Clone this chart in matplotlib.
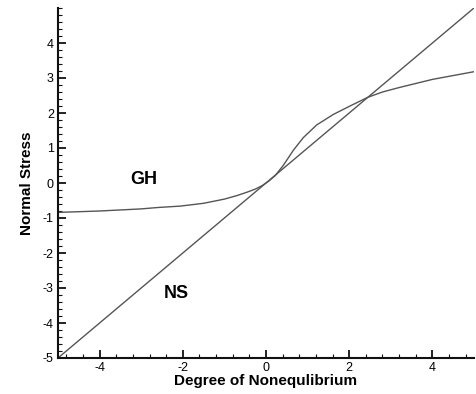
import numpy as np
import matplotlib
matplotlib.use("Agg")
import matplotlib.pyplot as plt
from matplotlib.ticker import MultipleLocator, FixedLocator

plt.rcParams['font.family'] = ['Liberation Sans', 'DejaVu Sans']
plt.rcParams['axes.unicode_minus'] = False

# NS curve (straight line)
ns_x = [-5, 5]
ns_y = [-5, 5]

# GH curve
gh_x = [-5.0, -4.0, -3.0, -2.6, -2.06, -1.5, -1.0, -0.7, -0.45, -0.25, -0.1, 0.05, 0.22, 0.42, 0.66, 0.90, 1.22, 1.62, 2.02, 2.45, 2.8, 3.21, 4.0, 5.0]
gh_y = [-0.84, -0.80, -0.74, -0.70, -0.66, -0.58, -0.46, -0.36, -0.26, -0.17, -0.08, 0.04, 0.21, 0.51, 0.94, 1.30, 1.66, 1.96, 2.20, 2.45, 2.60, 2.73, 2.96, 3.18]

xticks = [-4, -2, 0, 2, 4]
yticks = [-5, -4, -3, -2, -1, 0, 1, 2, 3, 4]

fig = plt.figure(figsize=(4.76, 3.94), dpi=100)
ax = fig.add_axes([58/476, 36/394, 416/476, 350/394])

line_color = '#555555'
ax.plot(ns_x, ns_y, color=line_color, lw=1.0)
ax.plot(gh_x, gh_y, color=line_color, lw=1.0)

ax.set_xlim(-5, 5)
ax.set_ylim(-5, 5)
for s in ['top', 'right']:
    ax.spines[s].set_visible(False)
for s in ['left', 'bottom']:
    ax.spines[s].set_linewidth(1.5)
    ax.spines[s].set_color('#111111')

ax.xaxis.set_major_locator(FixedLocator(xticks))
ax.yaxis.set_major_locator(FixedLocator(yticks))
ax.xaxis.set_minor_locator(MultipleLocator(0.4))
ax.yaxis.set_minor_locator(MultipleLocator(0.2))
ax.tick_params(which='major', direction='in', length=6, width=1.3, labelsize=9, color='#111111', pad=3)
ax.tick_params(which='minor', direction='in', length=3, width=0.8, color='#111111')

ax.set_xlabel('Degree of Nonequlibrium', fontsize=11, fontweight='bold', labelpad=0)
ax.set_ylabel('Normal Stress', fontsize=11, fontweight='bold', labelpad=6)

ax.text(-2.95, 0.1, 'GH', fontsize=13, fontweight='bold', ha='center', va='center')
ax.text(-2.15, -3.15, 'NS', fontsize=13, fontweight='bold', ha='center', va='center')

fig.savefig('out.png', dpi=100)
